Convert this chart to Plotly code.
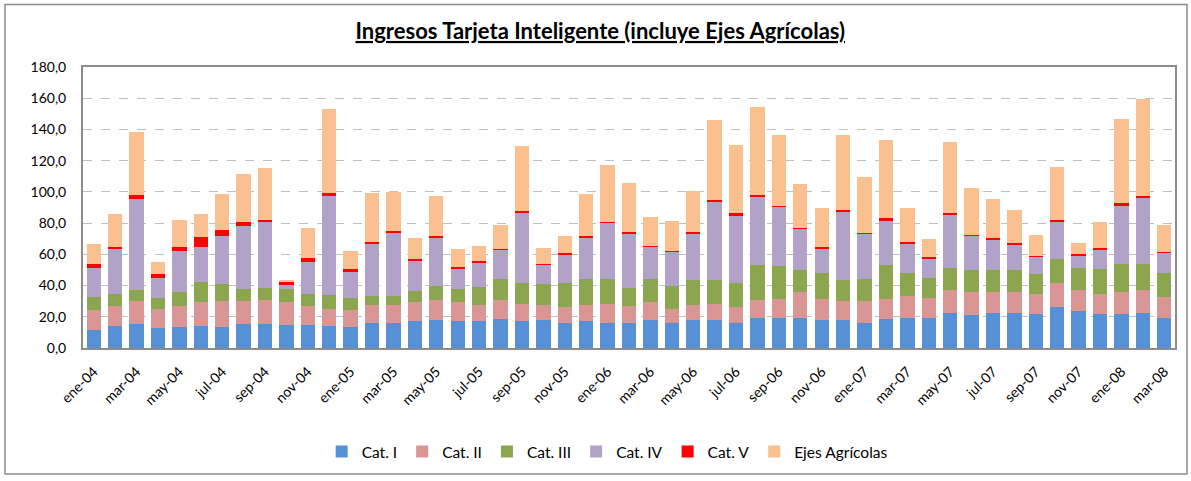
import plotly.graph_objects as go

months = ["ene-04","feb-04","mar-04","abr-04","may-04","jun-04","jul-04","ago-04","sep-04","oct-04","nov-04","dic-04",
          "ene-05","feb-05","mar-05","abr-05","may-05","jun-05","jul-05","ago-05","sep-05","oct-05","nov-05","dic-05",
          "ene-06","feb-06","mar-06","abr-06","may-06","jun-06","jul-06","ago-06","sep-06","oct-06","nov-06","dic-06",
          "ene-07","feb-07","mar-07","abr-07","may-07","jun-07","jul-07","ago-07","sep-07","oct-07","nov-07","dic-07",
          "ene-08","feb-08","mar-08"]

cat_i = [11.7,14.0,15.5,12.5,13.2,14.0,13.2,15.5,15.5,14.9,14.9,14.0,
         13.2,16.3,16.3,17.0,18.0,17.0,17.0,18.7,17.0,18.0,15.7,17.0,
         16.3,15.7,18.0,15.7,18.0,18.0,16.3,19.5,19.5,19.5,18.0,18.0,
         16.3,18.9,19.5,19.5,22.7,21.2,22.7,22.7,21.9,26.5,23.6,21.9,
         21.9,22.7,19.5]
cat_ii = [12.7,13.0,14.4,12.8,13.8,15.3,16.7,14.4,15.3,14.4,12.1,11.3,
          11.2,11.1,11.1,12.3,12.8,12.3,10.4,12.1,11.2,9.4,10.4,10.4,
          11.9,11.3,11.3,9.6,9.6,10.2,9.8,11.3,12.1,16.2,13.6,11.9,
          13.6,12.7,13.6,12.8,14.2,14.5,13.0,13.0,12.7,15.3,13.6,12.7,
          13.8,14.5,13.0]
cat_iii = [8.5,7.6,7.0,7.0,8.7,13.2,10.9,7.9,7.8,8.5,7.6,8.5,
           7.9,6.1,6.1,7.4,9.1,8.5,11.9,13.4,13.6,13.4,15.7,16.8,
           16.0,11.6,14.9,14.6,15.7,15.1,15.7,22.5,21.1,14.0,16.6,13.4,
           14.3,21.7,15.1,12.7,14.3,14.0,14.0,14.0,12.5,14.9,14.0,15.7,
           17.8,16.3,15.7]
cat_iv = [18.3,28.7,58.6,12.7,26.5,22.3,31.2,40.3,41.9,2.5,20.6,63.4,
          16.5,32.9,40.8,19.1,31.0,12.7,15.0,18.6,44.8,12.5,18.1,26.9,
          36.0,34.9,20.6,21.7,30.2,50.5,43.3,43.7,38.2,26.7,15.7,44.4,
          29.3,28.6,18.9,12.5,33.7,22.1,19.5,16.5,11.3,24.4,7.8,12.5,
          38.0,42.7,12.7]
cat_v = [2.5,1.5,2.4,2.3,2.6,6.1,3.4,2.4,1.4,2.6,2.3,2.2,
         1.7,1.3,0.6,1.1,0.9,1.3,1.5,0.5,0.9,0.2,0.8,0.7,
         0.3,0.8,0.6,0.6,0.8,0.7,1.1,0.9,0.3,0.7,0.6,0.6,
         0.2,1.1,0.6,0.7,1.3,0.8,1.1,1.1,0.6,0.6,1.1,1.1,
         1.1,1.0,0.7]
ejes = [12.8,21.2,40.3,7.9,17.4,15.1,23.3,31.0,33.4,0.3,19.1,53.7,
        11.7,31.7,25.3,13.4,25.4,11.5,9.6,15.7,42.0,10.4,11.1,26.9,
        36.9,31.4,18.2,18.9,26.5,51.6,43.9,56.7,45.3,28.0,25.5,48.2,
        35.8,50.3,22.1,11.9,45.6,29.9,25.0,21.0,13.6,34.2,7.2,16.6,
        54.1,62.0,17.2]

series = [("Cat. I", cat_i, "#5690D5"),
          ("Cat. II", cat_ii, "#DA9694"),
          ("Cat. III", cat_iii, "#8BA64E"),
          ("Cat. IV", cat_iv, "#B3A2C8"),
          ("Cat. V", cat_v, "#FF0000"),
          ("Ejes Agrícolas", ejes, "#FAC08F")]

y_ticks = [0, 20, 40, 60, 80, 100, 120, 140, 160, 180]

fig = go.Figure()
for name, vals, col in series:
    fig.add_trace(go.Bar(x=months, y=vals, name=name, marker=dict(color=col, line=dict(width=0))))

L, R, T, B = 83, 16, 67, 131
W, H = 1191, 481
pw, ph = W - L - R, H - T - B

fig.update_layout(
    width=W, height=H, barmode="stack", bargap=0.33,
    separators=",.",
    paper_bgcolor="white", plot_bgcolor="white",
    margin=dict(l=L, r=R, t=T, b=B, pad=0),
    font=dict(family="Lato, Calibri, sans-serif", size=14, color="#000000"),
    title=dict(text="<b><u>Ingresos Tarjeta Inteligente (incluye Ejes Agrícolas)</u></b>",
               x=0.504, xanchor="center", y=0.935, yanchor="middle",
               font=dict(size=22, family="Lato, sans-serif", color="#000")),
    legend=dict(orientation="h", x=0.48, xanchor="center", y=-0.37, yanchor="middle",
                font=dict(size=15.5), traceorder="normal", itemwidth=30),
    xaxis=dict(type="category", tickangle=-45, tickvals=months[::2], ticktext=months[::2],
               showline=True, linecolor="#8c8c8c", linewidth=2, mirror=True,
               ticks="", tickfont=dict(size=14), ticklabelstandoff=8),
    yaxis=dict(range=[0, 180], tickvals=y_ticks, tickformat=".1f",
               showline=True, linecolor="#8c8c8c", linewidth=2, mirror=True,
               showgrid=True, gridcolor="#c0c0c0", griddash="dash", gridwidth=1.3,
               ticks="", tickfont=dict(size=14), zeroline=False, ticklabelstandoff=12),
    showlegend=True,
)

# outer chart border
fig.add_shape(type="rect", xref="paper", yref="paper",
              x0=(5 - L) / pw, x1=(W - 4 - L) / pw,
              y0=-(H - 4 - T - ph) / ph, y1=1 + (T - 4) / ph,
              line=dict(color="#8c8c8c", width=1.5), layer="below")

fig.write_html("out.html", config={"displayModeBar": False},
               post_script="document.body.style.margin='0';")
